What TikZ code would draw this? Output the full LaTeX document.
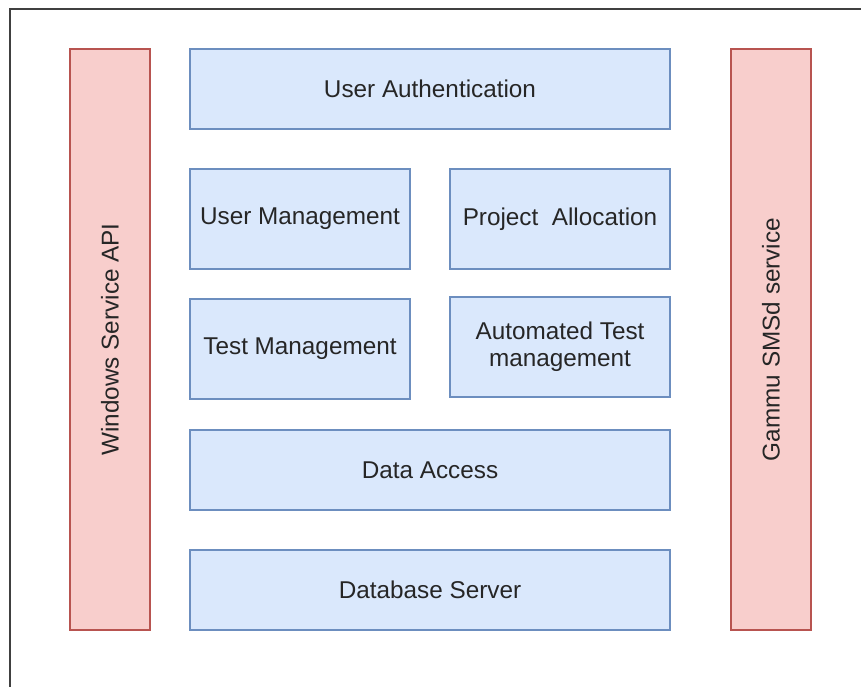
\documentclass[tikz,border=0pt]{standalone}
\usepackage{fontspec}
\setmainfont{Liberation Sans}
\definecolor{bfill}{HTML}{DAE8FC}
\definecolor{bline}{HTML}{6C8EBF}
\definecolor{rfill}{HTML}{F8CECC}
\definecolor{rline}{HTML}{B85450}
\begin{document}
\begin{tikzpicture}[x=1pt,y=-1pt,
  lbl/.style={font=\fontsize{24.3}{27}\selectfont,text=black!85},
  bluebox/.style={lbl,draw=bline,fill=bfill,line width=1.5pt,inner sep=0pt,align=center},
  redbox/.style={draw=rline,fill=rfill,line width=1.5pt,inner sep=0pt}]
\useasboundingbox (0,0) rectangle (861,686);
\fill[white] (0,0) rectangle (861,686);
\draw[line width=2pt,black!75] (10,690) -- (10,9) -- (865,9);
\node[redbox,minimum width=80pt,minimum height=581pt] (wsa) at (110,339.5) {};
\node[lbl,rotate=90] (wsat) at (wsa.center) {Windows Service API};
\node[redbox,minimum width=80pt,minimum height=581pt] (gam) at (771,339.5) {};
\node[lbl,rotate=90] (gamt) at (gam.center) {Gammu SMSd service};
\node[bluebox,minimum width=480pt,minimum height=80pt] (ua) at (430,89) {User Authentication};
\node[bluebox,minimum width=220pt,minimum height=100pt] (um) at (300,219) {User Management};
\node[bluebox,minimum width=220pt,minimum height=100pt] (pa) at (560,219) {Project\ \ Allocation};
\node[bluebox,minimum width=220pt,minimum height=100pt] (tm) at (300,349) {Test Management};
\node[bluebox,minimum width=220pt,minimum height=100pt] (atm) at (560,347) {Automated Test\\management};
\node[bluebox,minimum width=480pt,minimum height=80pt] (da) at (430,470) {Data Access};
\node[bluebox,minimum width=480pt,minimum height=80pt] (dbs) at (430,590) {Database Server};
\end{tikzpicture}
\end{document}
